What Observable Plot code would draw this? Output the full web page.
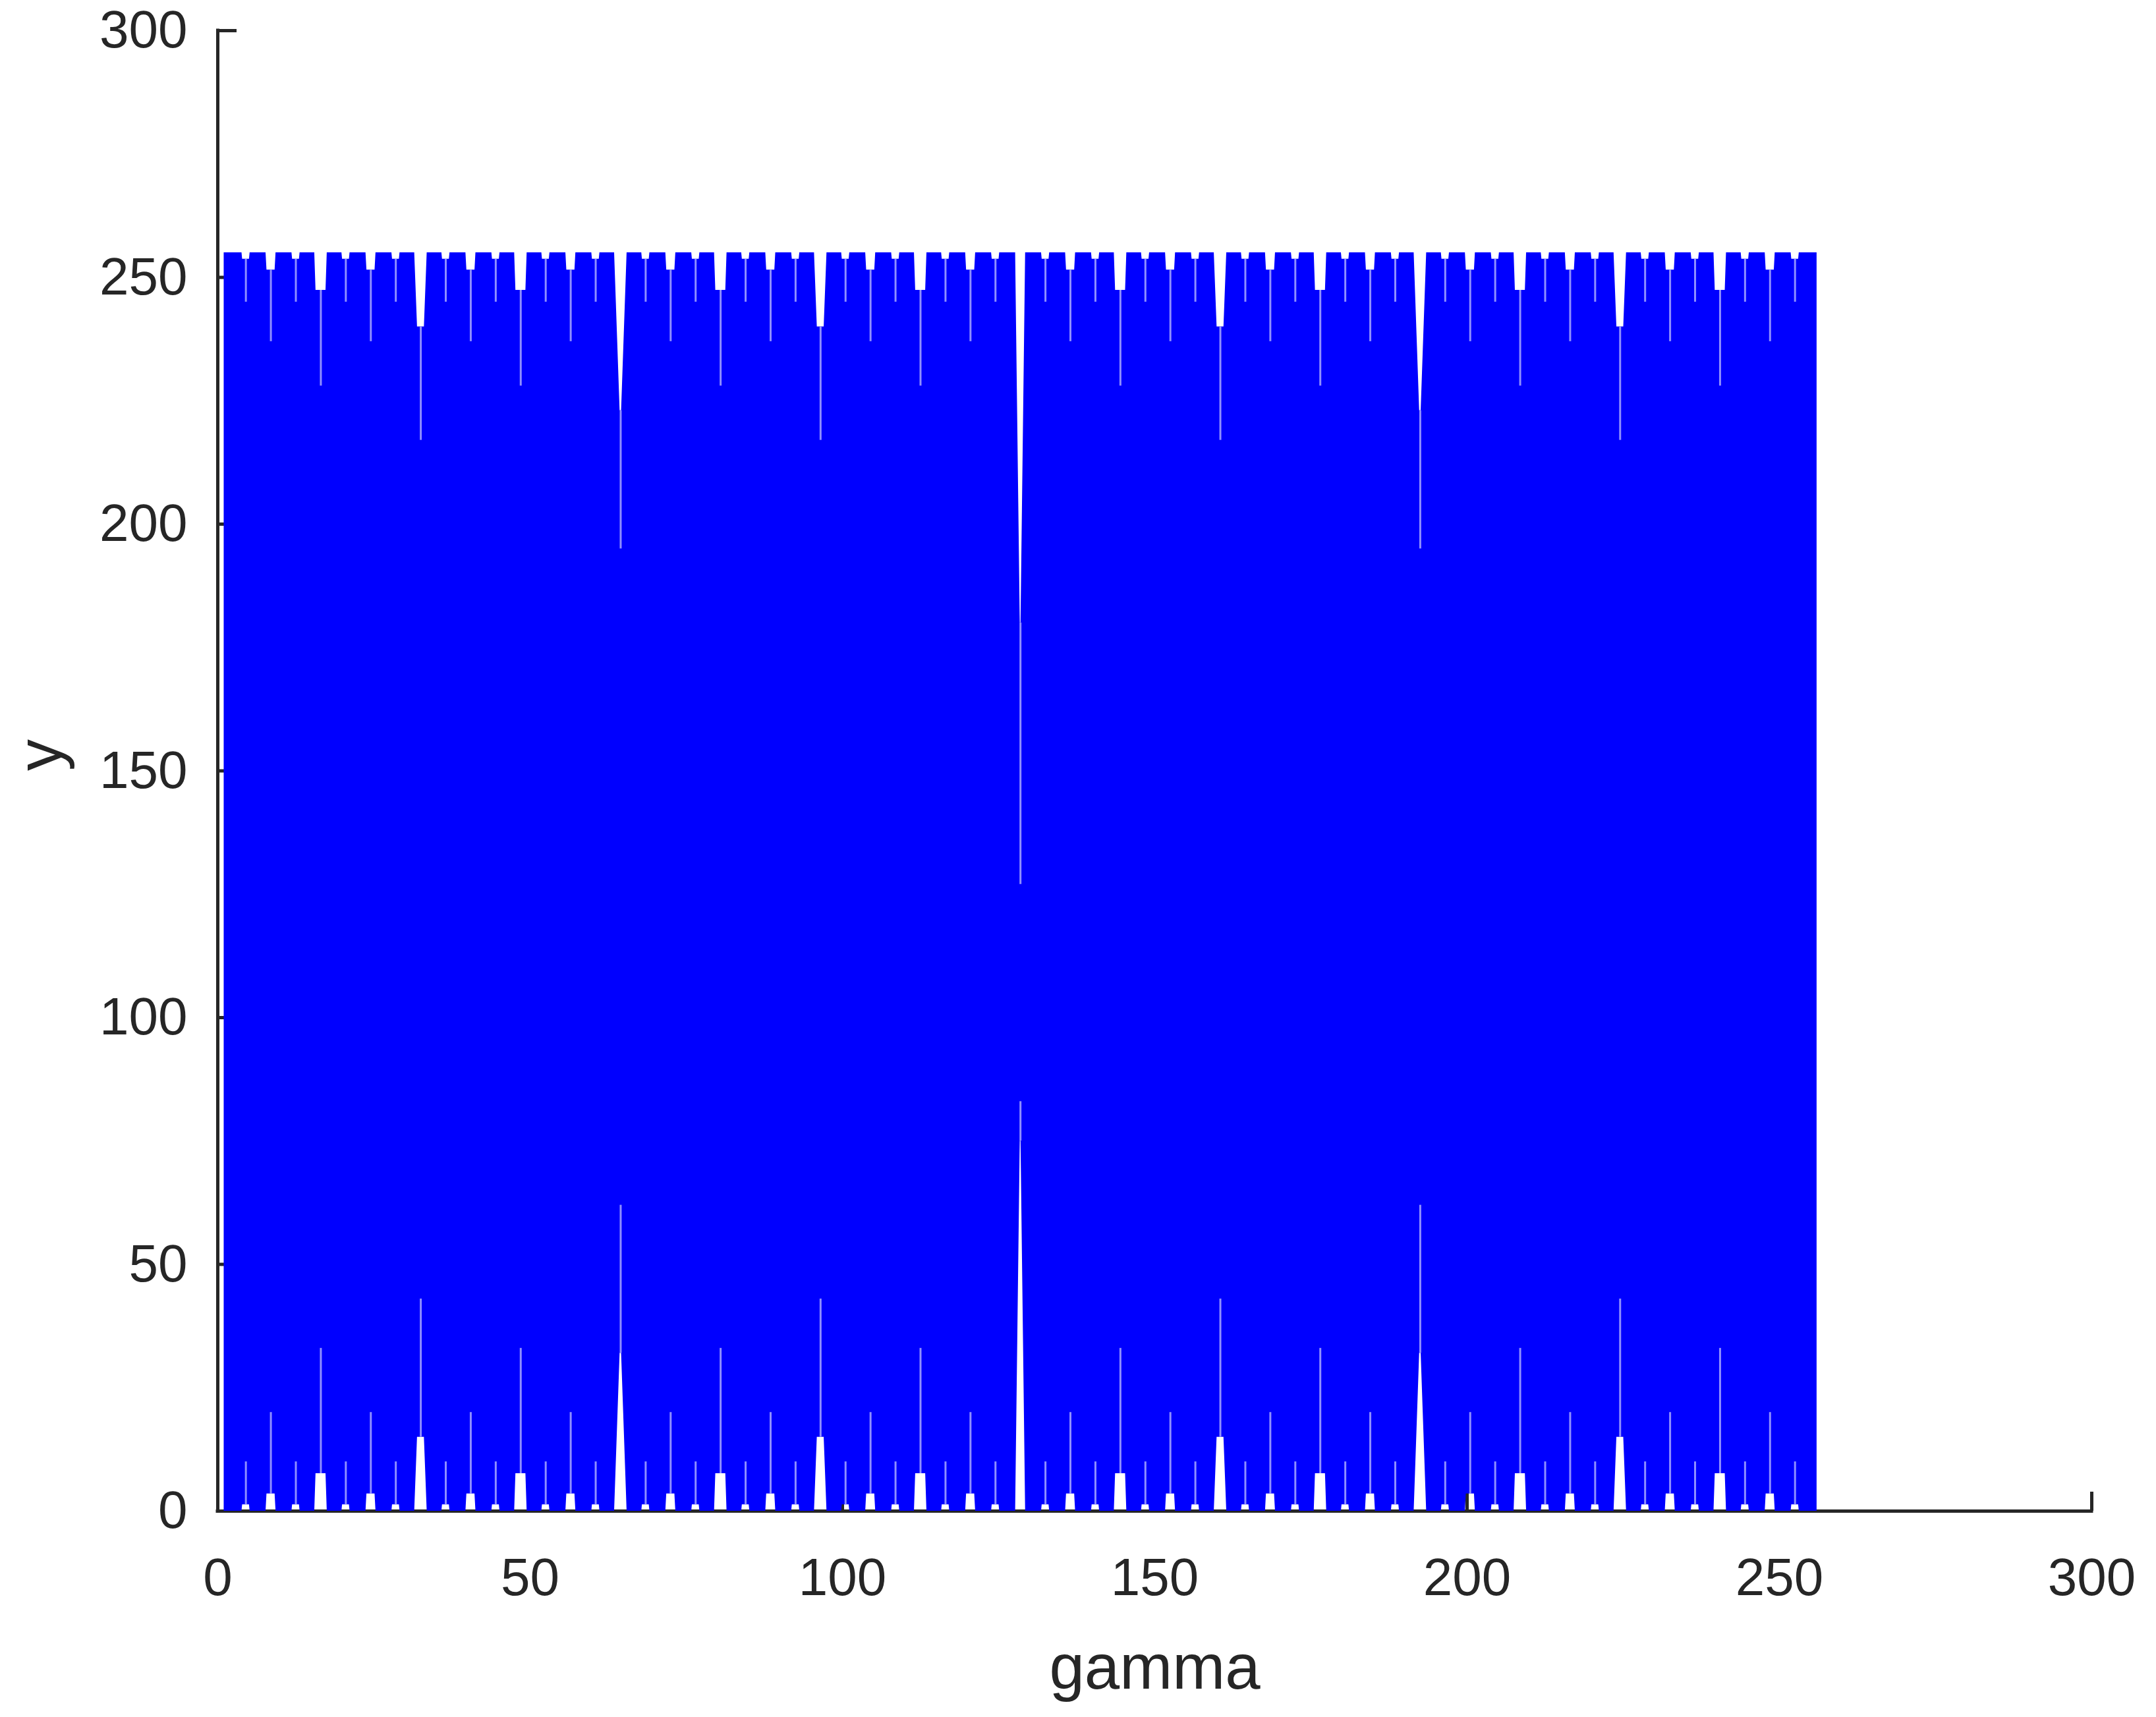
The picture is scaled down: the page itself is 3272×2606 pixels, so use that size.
<!DOCTYPE html>
<html>
<head>
<meta charset="utf-8">
<script src="https://cdn.jsdelivr.net/npm/d3@7"></script>
<script src="https://cdn.jsdelivr.net/npm/@observablehq/plot@0.6"></script>
<style>
  body { margin: 0; background: #fff; }
</style>
</head>
<body>
<div id="vis"></div>
<script>
// gamma runs 1..256, the signal swings over the full 0..255 band
const gammaRange = [1, 256]
const yRange = [0, 255]
const xTicks = [0, 50, 100, 150, 200, 250, 300]
const yTicks = [0, 50, 100, 150, 200, 250, 300]

// where the band does not reach 0 / 255
const notch4 = [4.5, 12.5, 20.5, 28.5, 36.5, 44.5, 52.5, 60.5, 68.5, 76.5, 84.5, 92.5,
  100.5, 108.5, 116.5, 124.5, 132.5, 140.5, 148.5, 156.5, 164.5, 172.5, 180.5, 188.5,
  196.5, 204.5, 212.5, 220.5, 228.5, 236.5, 244.5, 252.5]
const notch8 = [8.5, 24.5, 40.5, 56.5, 72.5, 88.5, 104.5, 120.5, 136.5, 152.5, 168.5,
  184.5, 200.5, 216.5, 232.5, 248.5]
const notch16 = [16.5, 48.5, 80.5, 112.5, 144.5, 176.5, 208.5, 240.5]
const notch32 = [32.5, 96.5, 160.5, 224.5]
const notch64 = [64.5, 192.5]
const notch128 = [128.5]

// per notch group: gap depth from the edge, gap half width at edge / at tip (gamma units)
const gapDepth = [1.3, 3.5, 7.6, 15, 32, 75]
const gapEdge = [0.65, 0.8, 1.0, 1.0, 1.0, 0.8]
const gapTip = [0.55, 0.65, 0.8, 0.55, 0.12, 0.06]
// faint light streak continuing past the gap
const streakTop = [10, 18, 27, 38, 60, 128]
const streakBottom = [10, 20, 33, 43, 62, 83]

const groups = [notch4, notch8, notch16, notch32, notch64, notch128]

let envelope = [{x: gammaRange[0], lo: yRange[0], hi: yRange[1]}]
let streaks = []
groups.forEach((xs, i) => {
  xs.forEach(c => {
    const e = gapEdge[i], t = gapTip[i], d = gapDepth[i]
    envelope.push(
      {x: c - e, lo: yRange[0], hi: yRange[1]},
      {x: c - t, lo: yRange[0] + d, hi: yRange[1] - d},
      {x: c + t, lo: yRange[0] + d, hi: yRange[1] - d},
      {x: c + e, lo: yRange[0], hi: yRange[1]}
    )
    streaks.push(
      {x: c, y1: yRange[1] - d, y2: yRange[1] - streakTop[i]},
      {x: c, y1: yRange[0] + d, y2: yRange[0] + streakBottom[i]}
    )
  })
})
envelope.push({x: gammaRange[1], lo: yRange[0], hi: yRange[1]})
envelope.sort((a, b) => a.x - b.x)

const ink = "#262626"

let chart = Plot.plot({
  width: 3272,
  height: 2606,
  marginLeft: 330,
  marginRight: 98,
  marginTop: 46,
  marginBottom: 313,
  x: {domain: [0, 300]},
  y: {domain: [0, 300]},
  style: {
    fontFamily: "'Liberation Sans', Arial, sans-serif",
    fontSize: "80px",
    color: ink,
    background: "#fff",
  },
  marks: [
    Plot.ruleX([0], {stroke: ink, strokeWidth: 5, strokeLinecap: "square"}),
    Plot.ruleY([0], {stroke: ink, strokeWidth: 5, strokeLinecap: "square"}),
    Plot.axisX({
      ticks: xTicks,
      tickSize: -29,
      tickPadding: 100,
      strokeWidth: 5,
      label: null,
      fontSize: 80,
    }),
    Plot.axisY({
      ticks: yTicks,
      tickSize: -29,
      tickPadding: 75,
      strokeWidth: 5,
      label: null,
      fontSize: 80,
    }),
    Plot.areaY(envelope, {
      x: "x",
      y1: "lo",
      y2: "hi",
      fill: "#0000ff",
      curve: "linear",
    }),
    Plot.ruleX(streaks, {
      x: "x",
      y1: "y1",
      y2: "y2",
      stroke: "#8f8fff",
      strokeWidth: 3,
    }),
    Plot.text(["gamma"], {
      text: d => d,
      frameAnchor: "bottom",
      dy: 269,
      lineAnchor: "bottom",
      fontSize: 96,
      fill: ink,
    }),
    Plot.text(["y"], {
      text: d => d,
      frameAnchor: "left",
      dx: -238,
      rotate: -90,
      lineAnchor: "bottom",
      fontSize: 96,
      fill: ink,
    }),
  ],
})
d3.select('#vis').append(() => chart)
</script>
</body>
</html>
